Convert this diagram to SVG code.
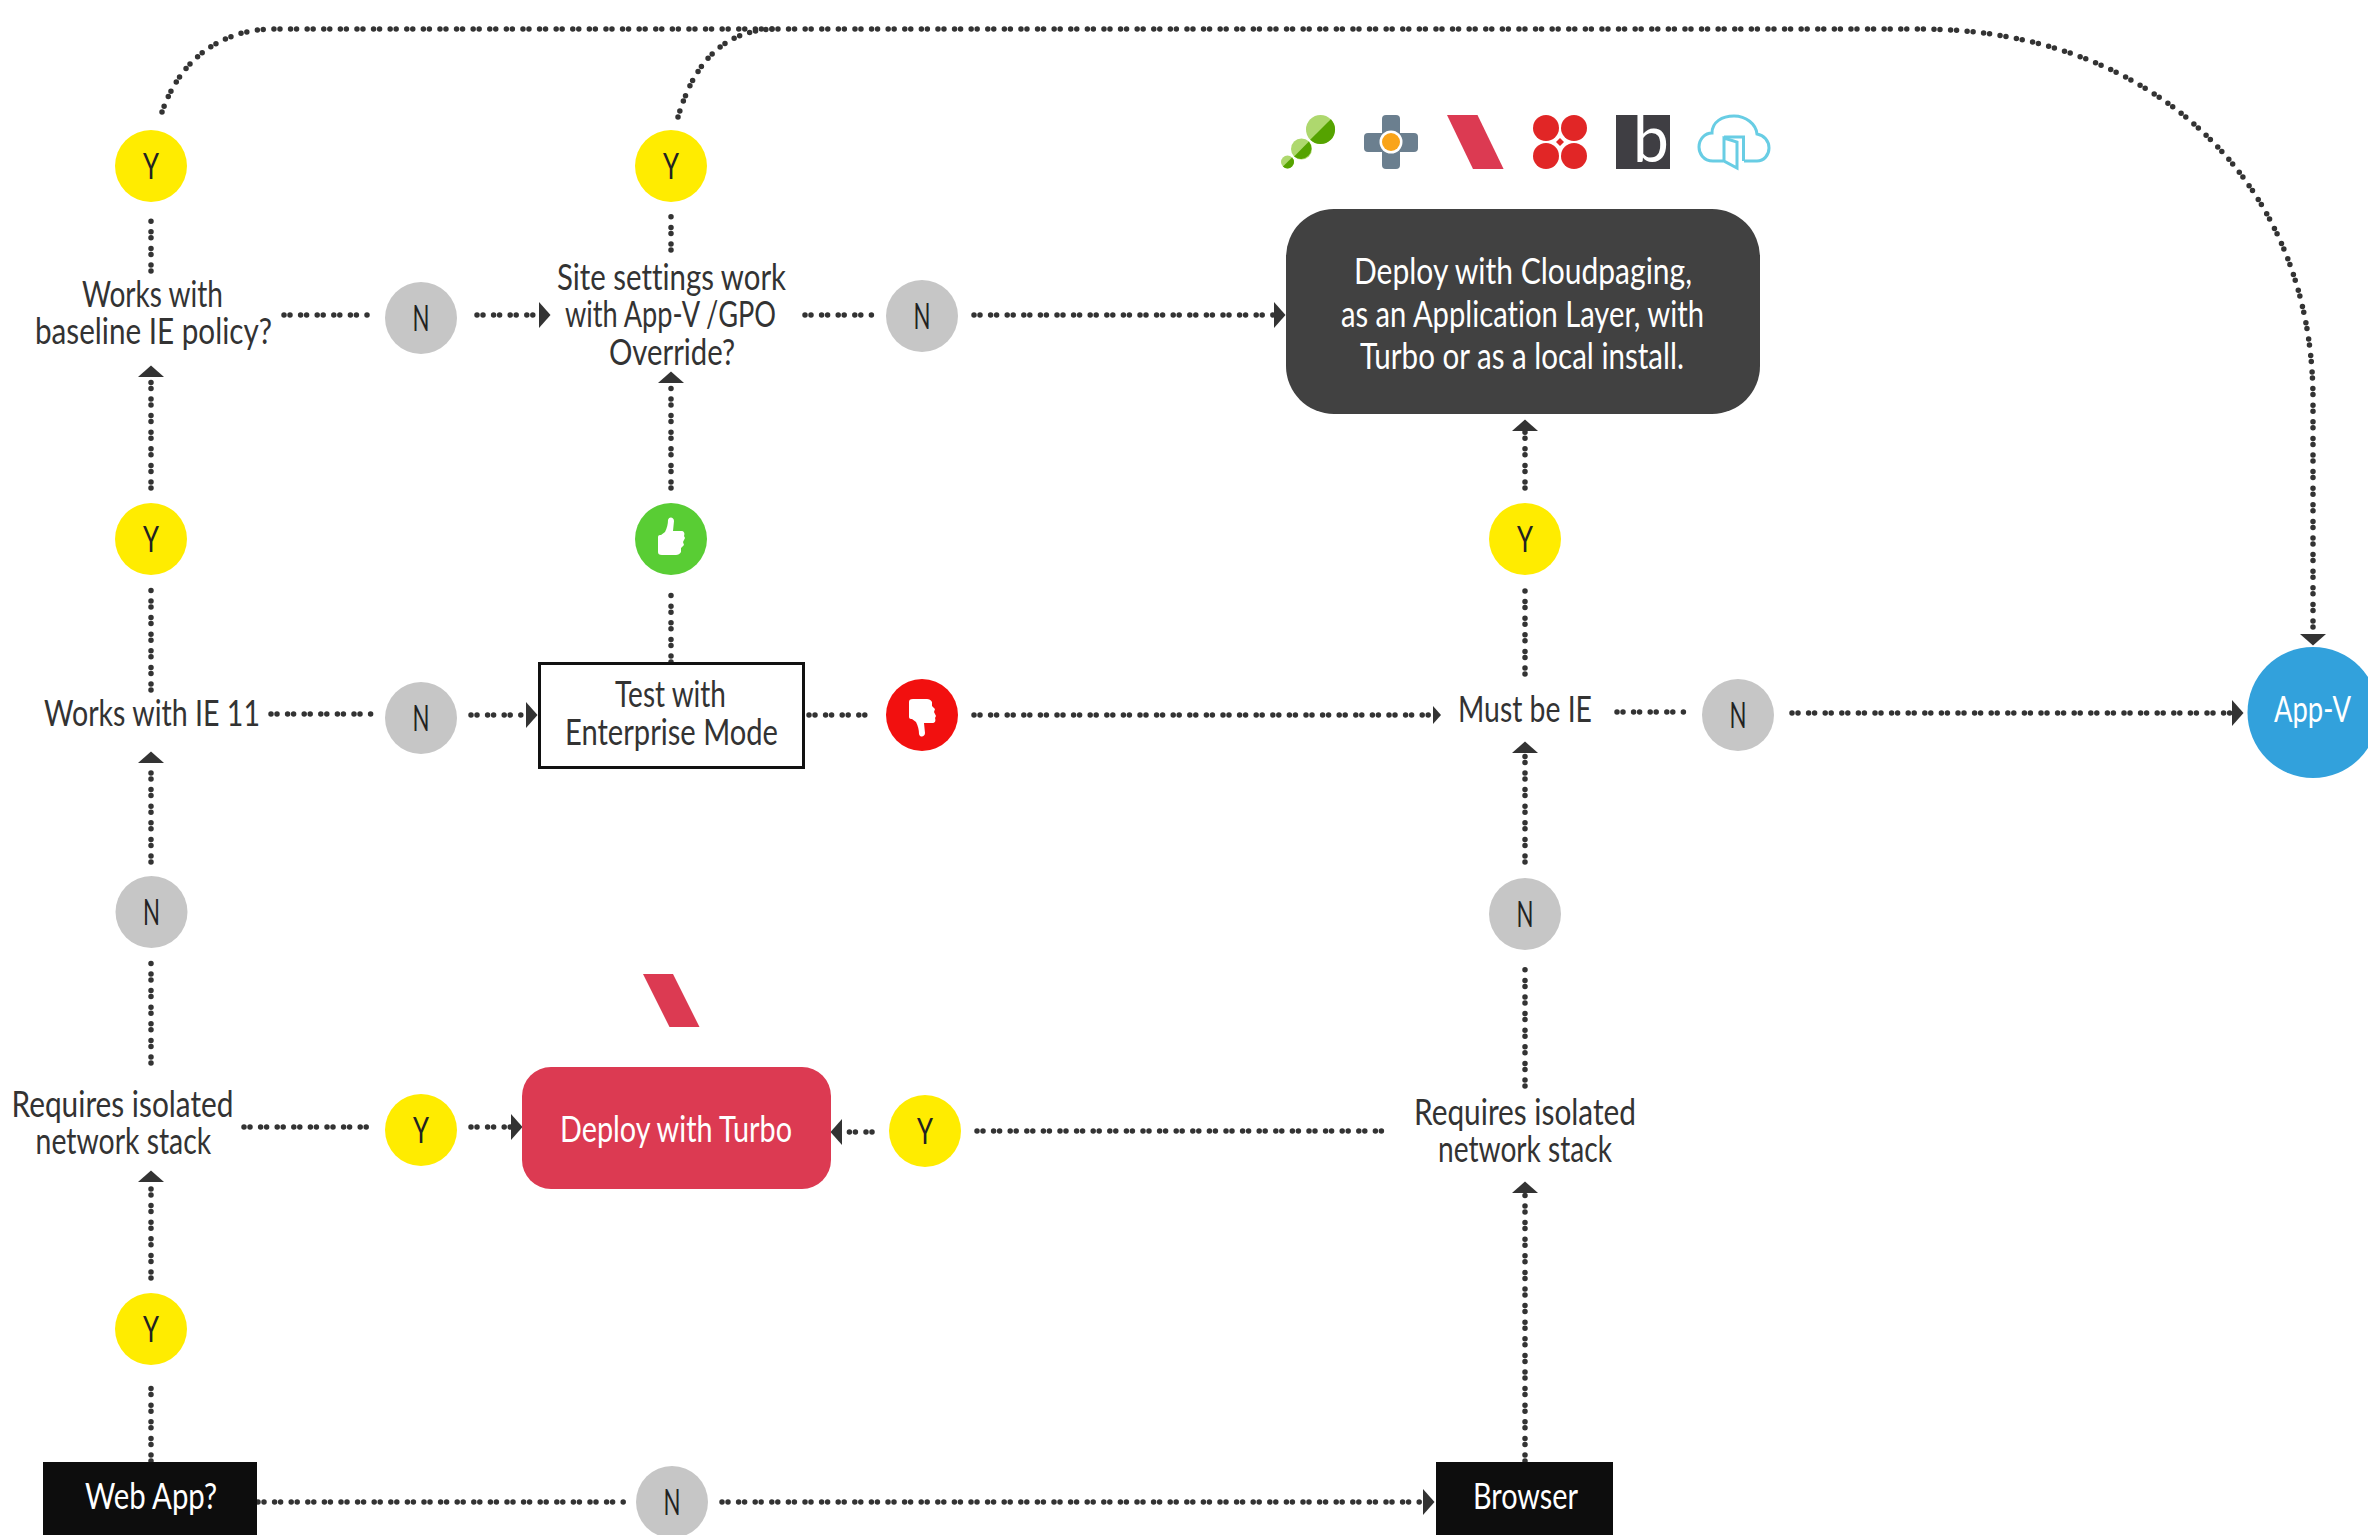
<svg xmlns="http://www.w3.org/2000/svg" xmlns:xlink="http://www.w3.org/1999/xlink" width="2368" height="1535" viewBox="0 0 2368 1535">
<style>
text{font-family:"Lato","Open Sans","Liberation Sans",sans-serif;font-size:37.5px;fill:#333;font-variant-ligatures:none}
.w{fill:#fff}
.l{font-size:37px;fill:#222}
.c{stroke:#333;stroke-width:5.5;stroke-linecap:round;stroke-dasharray:0 6 0 10.6;fill:none}
.a{marker-end:url(#ah)}
.s{marker-end:url(#ahs)}
.y{fill:#ffec00}.n{fill:#c6c6c6}
.sl{fill:#dc3a52}
</style>
<defs>
<marker id="ah" markerUnits="userSpaceOnUse" markerWidth="14" markerHeight="28" refX="0" refY="13" orient="auto" viewBox="0 0 14 28"><path d="M0,0L11.5,13L0,26Z" fill="#333"/></marker>
<marker id="ahs" markerUnits="userSpaceOnUse" markerWidth="10" markerHeight="20" refX="0" refY="9" orient="auto" viewBox="0 0 10 20"><path d="M0,0L8,9L0,18Z" fill="#333"/></marker>
<path id="thumb" fill="#fff" d="M668,520C669,516 674,517 674,521L673,531H681C684,531 685,533 684,536L685,538L683,542L684,545L681,548L681,552C680,554 678,555 676,555H662C659,555 658,554 658,552V537C658,535 660,535 661,535L665,532C667,528 668,524 668,520Z"/>
</defs>
<rect width="2368" height="1535" fill="#fff"/>
<g id="connectors">
<path class="c a" d="M162,112C180,60 220,29 275,29H1920C2150,29 2313,180 2313,400V634"/>
<path class="c" d="M678,117C695,60 725,30 775,29"/>
<path class="c" d="M151,271V217"/>
<path class="c" d="M671,250V215"/>
<path class="c" d="M284,315H372"/>
<path class="c a" d="M477,315H539"/>
<path class="c" d="M805,315H875"/>
<path class="c a" d="M974,315H1274"/>
<path class="c a" d="M151,488V377"/>
<path class="c a" d="M671,488V383"/>
<path class="c a" d="M1525,488V431"/>
<path class="c" d="M151,690V590"/>
<path class="c" d="M671,662V594"/>
<path class="c" d="M1525,674V590"/>
<path class="c" d="M271,714H372"/>
<path class="c a" d="M471,715H526"/>
<path class="c" d="M809,715H872"/>
<path class="c s" d="M974,715H1433"/>
<path class="c" d="M1617,712H1687"/>
<path class="c a" d="M1792,713H2232"/>
<path class="c a" d="M151,862V763"/>
<path class="c a" d="M1525,862V753"/>
<path class="c" d="M151,1063V963"/>
<path class="c" d="M1525,1086V968"/>
<path class="c a" d="M151,1278V1182"/>
<path class="c" d="M151,1461V1378"/>
<path class="c a" d="M1525,1461V1193"/>
<path class="c" d="M244,1127H372"/>
<path class="c a" d="M471,1127H511"/>
<path class="c a" d="M872,1132H842"/>
<path class="c" d="M977,1131H1385"/>
<path class="c" d="M258,1502H626"/>
<path class="c a" d="M722,1502H1423"/>
</g>
<g id="y-baseline-pass"><circle class="y" cx="151" cy="166" r="36"/><text class="l" x="143" y="179" textLength="16" lengthAdjust="spacingAndGlyphs">Y</text></g>
<g id="y-site-pass"><circle class="y" cx="671" cy="166" r="36"/><text class="l" x="663" y="179" textLength="16" lengthAdjust="spacingAndGlyphs">Y</text></g>
<g id="works-baseline"><text x="82" y="307" textLength="141" lengthAdjust="spacingAndGlyphs">Works with</text><text x="35" y="344" textLength="237" lengthAdjust="spacingAndGlyphs">baseline IE policy?</text></g>
<g id="n-baseline"><circle class="n" cx="421" cy="318" r="36"/><text class="l" x="412.500" y="331" textLength="17" lengthAdjust="spacingAndGlyphs">N</text></g>
<g id="site-settings"><text x="557" y="290" textLength="229" lengthAdjust="spacingAndGlyphs">Site settings work</text><text x="565" y="327" textLength="211" lengthAdjust="spacingAndGlyphs">with App-V /GPO</text><text x="609" y="365" textLength="126" lengthAdjust="spacingAndGlyphs">Override?</text></g>
<g id="n-site"><circle class="n" cx="922" cy="316" r="36"/><text class="l" x="913.500" y="329" textLength="17" lengthAdjust="spacingAndGlyphs">N</text></g>
<g id="deploy-cloudpaging"><rect x="1286" y="209" width="474" height="205" rx="48" fill="#414141"/>
<text class="w" x="1354" y="284" textLength="338" lengthAdjust="spacingAndGlyphs">Deploy with Cloudpaging,</text><text class="w" x="1341" y="326.500" textLength="363" lengthAdjust="spacingAndGlyphs">as an Application Layer, with</text><text class="w" x="1360" y="369" textLength="324" lengthAdjust="spacingAndGlyphs">Turbo or as a local install.</text></g>
<g id="icon-green">
<circle cx="1320.5" cy="129.5" r="14.5" fill="#aed86e"/><path d="M1330.8,119.2A14.5,14.5 0 0 1 1310.2,139.8Z" fill="#55a300"/>
<circle cx="1301.5" cy="149" r="10.5" fill="#aed86e"/><path d="M1308.9,141.6A10.5,10.5 0 0 1 1294.1,156.4Z" fill="#55a300"/>
<circle cx="1287.5" cy="162" r="6.5" fill="#aed86e"/><path d="M1292.1,157.4A6.5,6.5 0 0 1 1282.9,166.6Z" fill="#55a300"/>
</g>
<g id="icon-plus"><rect x="1382" y="115" width="18" height="54" rx="4" fill="#6b7f8f"/><rect x="1364" y="133" width="54" height="19" rx="4" fill="#6b7f8f"/><circle cx="1391" cy="142" r="11.5" fill="#fff"/><circle cx="1391" cy="142" r="9" fill="#f9a41a"/></g>
<g id="icon-turbo"><polygon class="sl" points="1447,115 1477.5,115 1503.6,169 1473,169"/></g>
<g id="icon-red" fill="#e12626"><circle cx="1546" cy="128" r="13"/><circle cx="1574" cy="128" r="13"/><circle cx="1546" cy="156" r="13"/><circle cx="1574" cy="156" r="13"/><polygon points="1560,138 1564,142 1560,146 1556,142"/></g>
<g id="icon-b"><rect x="1616" y="115" width="54" height="54" fill="#3f3e43"/><text x="1633" y="162" style="font-size:64px;fill:#fff">b</text></g>
<g id="icon-cloud" fill="none" stroke="#68cde4" stroke-width="3"><path d="M1723,161H1713C1703,161 1699,153 1699,147C1699,139 1705,133 1712,133C1712,122 1722,116 1734,116C1746,116 1756,124 1757,134C1764,135 1769,141 1769,148C1769,155 1764,161 1757,161H1744"/><path d="M1724,137H1743.5V161"/><path d="M1724,138L1737,142V168L1724,161Z"/></g>
<g id="y-ie11"><circle class="y" cx="151" cy="539" r="36"/><text class="l" x="143" y="552" textLength="16" lengthAdjust="spacingAndGlyphs">Y</text></g>
<g id="thumb-up"><circle cx="671" cy="539" r="36" fill="#59cd34"/><use xlink:href="#thumb" href="#thumb"/></g>
<g id="y-must-be-ie"><circle class="y" cx="1525" cy="539" r="36"/><text class="l" x="1517" y="552" textLength="16" lengthAdjust="spacingAndGlyphs">Y</text></g>
<g id="works-ie11"><text x="44" y="726" textLength="216" lengthAdjust="spacingAndGlyphs">Works with IE 11</text></g>
<g id="n-ie11"><circle class="n" cx="421" cy="718" r="36"/><text class="l" x="412.500" y="731" textLength="17" lengthAdjust="spacingAndGlyphs">N</text></g>
<g id="test-enterprise"><rect x="539.500" y="663.500" width="264" height="104" fill="#fff" stroke="#111" stroke-width="3"/><text x="615" y="707" textLength="111" lengthAdjust="spacingAndGlyphs">Test with</text><text x="565" y="745" textLength="213" lengthAdjust="spacingAndGlyphs">Enterprise Mode</text></g>
<g id="thumb-down"><circle cx="922" cy="715" r="36" fill="#f2100f"/><use xlink:href="#thumb" href="#thumb" transform="matrix(1 0 0 -1 251 1254)"/></g>
<g id="must-be-ie"><text x="1458" y="722" textLength="134" lengthAdjust="spacingAndGlyphs">Must be IE</text></g>
<g id="n-must-be-ie"><circle class="n" cx="1738" cy="715" r="36"/><text class="l" x="1729.500" y="728" textLength="17" lengthAdjust="spacingAndGlyphs">N</text></g>
<g id="app-v"><circle cx="2313" cy="712.5" r="65.5" fill="#32a1dc"/><text class="w" x="2274" y="722" textLength="77" lengthAdjust="spacingAndGlyphs">App-V</text></g>
<g id="n-left"><circle class="n" cx="151.500" cy="912" r="36"/><text class="l" x="143" y="925" textLength="17" lengthAdjust="spacingAndGlyphs">N</text></g>
<g id="n-right"><circle class="n" cx="1525" cy="914" r="36"/><text class="l" x="1516.500" y="927" textLength="17" lengthAdjust="spacingAndGlyphs">N</text></g>
<g id="turbo-logo"><polygon class="sl" points="643,974 673,974 699.5,1027 669.5,1027"/></g>
<g id="req-left"><text x="11.500" y="1117" textLength="222" lengthAdjust="spacingAndGlyphs">Requires isolated</text><text x="35.600" y="1154" textLength="175.600" lengthAdjust="spacingAndGlyphs">network stack</text></g>
<g id="y-req-left"><circle class="y" cx="421" cy="1130" r="36"/><text class="l" x="413" y="1143" textLength="16" lengthAdjust="spacingAndGlyphs">Y</text></g>
<g id="deploy-turbo"><rect x="522" y="1067" width="309" height="122" rx="29" fill="#dc3a52"/><text class="w" x="560" y="1142" textLength="232" lengthAdjust="spacingAndGlyphs">Deploy with Turbo</text></g>
<g id="y-req-right"><circle class="y" cx="925" cy="1131" r="36"/><text class="l" x="917" y="1144" textLength="16" lengthAdjust="spacingAndGlyphs">Y</text></g>
<g id="req-right"><text x="1414" y="1125" textLength="222" lengthAdjust="spacingAndGlyphs">Requires isolated</text><text x="1438" y="1162" textLength="174" lengthAdjust="spacingAndGlyphs">network stack</text></g>
<g id="y-web"><circle class="y" cx="151" cy="1329" r="36"/><text class="l" x="143" y="1342" textLength="16" lengthAdjust="spacingAndGlyphs">Y</text></g>
<g id="web-app"><rect x="43" y="1462" width="214" height="73" fill="#0d0d0d"/><text class="w" x="85" y="1509" textLength="132" lengthAdjust="spacingAndGlyphs">Web App?</text></g>
<g id="n-web"><circle class="n" cx="672" cy="1502" r="36"/><text class="l" x="663.500" y="1515" textLength="17" lengthAdjust="spacingAndGlyphs">N</text></g>
<g id="browser"><rect x="1436" y="1462" width="177" height="73" fill="#0d0d0d"/><text class="w" x="1473" y="1509" textLength="105" lengthAdjust="spacingAndGlyphs">Browser</text></g>
</svg>
